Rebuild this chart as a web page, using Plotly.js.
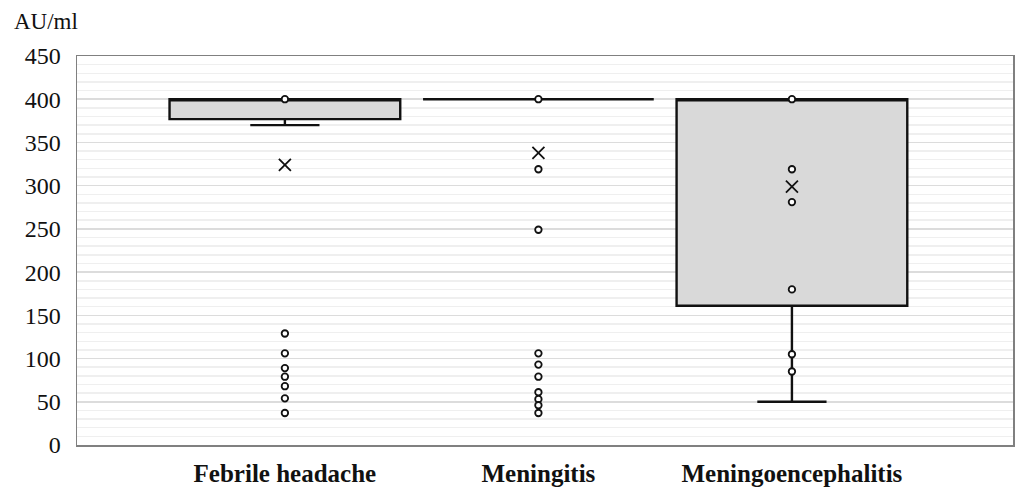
<!DOCTYPE html>
<html>
<head>
<meta charset="utf-8">
<script src="https://cdn.plot.ly/plotly-3.0.1.min.js"></script>
<style>html,body{margin:0;padding:0;background:#fff;}#chart{width:1019px;height:491px;}</style>
</head>
<body>
<div id="chart"></div>
<script>
const categories = ['Febrile headache', 'Meningitis', 'Meningoencephalitis'];
const q1Values = [377, 400, 161];
const medianValues = [400, 400, 400];
const q3Values = [400, 400, 400];
const lowerWhiskers = [370, 400, 50];
const upperWhiskers = [400, 400, 400];
const meanValues = [324, 338, 299];
const febrilePoints = [400, 129, 106, 89, 79, 68, 54, 37];
const meningitisPoints = [400, 319, 249, 106, 93, 79, 61, 53, 46, 37];
const meningoPoints = [400, 319, 281, 180, 105, 85];
const yTickValues = [0, 50, 100, 150, 200, 250, 300, 350, 400, 450];

const positions = categories.map((c, i) => i);
const groups = [febrilePoints, meningitisPoints, meningoPoints];
const ptX = [], ptY = [];
groups.forEach((g, i) => g.forEach(v => { ptX.push(i); ptY.push(v); }));

const serif = '"Liberation Serif", "DejaVu Serif", serif';

const traces = [
  {
    type: 'box',
    x: positions,
    q1: q1Values,
    median: medianValues,
    q3: q3Values,
    lowerfence: lowerWhiskers,
    upperfence: upperWhiskers,
    width: 0.91,
    whiskerwidth: 0.3,
    fillcolor: '#d9d9d9',
    line: {color: '#111111', width: 2.4},
    boxpoints: false,
    hoverinfo: 'skip',
    showlegend: false
  },
  {
    type: 'scatter',
    mode: 'markers',
    x: ptX,
    y: ptY,
    marker: {symbol: 'circle', size: 6.5, color: '#ffffff', line: {color: '#111111', width: 1.8}},
    cliponaxis: false,
    showlegend: false,
    hoverinfo: 'y'
  },
  {
    type: 'scatter',
    mode: 'markers',
    x: positions,
    y: meanValues,
    marker: {symbol: 'x-thin', size: 12, color: '#111111', line: {color: '#111111', width: 1.8}},
    showlegend: false,
    hoverinfo: 'y'
  }
];

const layout = {
  width: 1019,
  height: 491,
  margin: {l: 77, r: 6, t: 56, b: 46},
  paper_bgcolor: '#ffffff',
  plot_bgcolor: '#ffffff',
  showlegend: false,
  font: {family: serif, color: '#111111'},
  xaxis: {
    range: [-0.82, 2.872],
    tickvals: positions,
    ticktext: categories,
    tickfont: {family: serif, size: 25, color: '#111111', weight: 'bold'},
    ticks: '',
    ticklabelstandoff: 5,
    showgrid: false,
    zeroline: false,
    showline: true,
    mirror: true,
    linecolor: '#808080',
    linewidth: 1.5
  },
  yaxis: {
    range: [0, 450],
    tickvals: yTickValues,
    tickfont: {family: serif, size: 24, color: '#111111'},
    ticks: '',
    ticklabelstandoff: 10,
    showgrid: true,
    gridcolor: '#dcdcdc',
    gridwidth: 1.5,
    minor: {dtick: 10, showgrid: true, gridcolor: '#efefef', gridwidth: 1.5},
    zeroline: false,
    showline: true,
    mirror: true,
    linecolor: '#808080',
    linewidth: 1.5
  },
  annotations: [{
    text: 'AU/ml',
    xref: 'paper', yref: 'paper',
    x: -0.069, y: 1.0,
    xanchor: 'left', yanchor: 'bottom',
    yshift: 20,
    showarrow: false,
    font: {family: serif, size: 23, color: '#111111'}
  }]
};

Plotly.newPlot('chart', traces, layout, {displayModeBar: false, staticPlot: true});
</script>
</body>
</html>
